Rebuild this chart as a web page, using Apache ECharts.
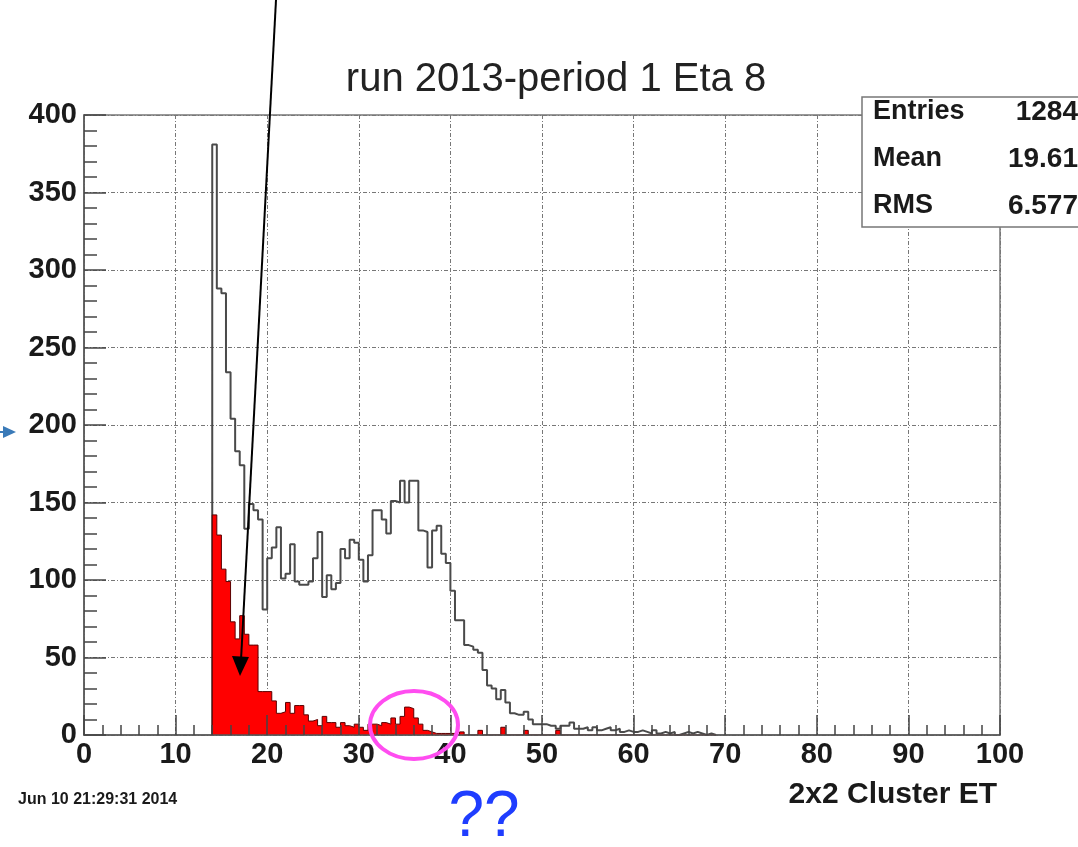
<!DOCTYPE html>
<html>
<head>
<meta charset="utf-8">
<script src="https://cdn.jsdelivr.net/npm/echarts@6/dist/echarts.min.js"></script>
<style>
html,body{margin:0;padding:0;background:#fff;}
#chart{width:1078px;height:847px;}
</style>
</head>
<body>
<div id="chart"></div>
<script>
// ---- data ----
const binStart = 14;      // first bin lower edge (ET)
const binWidth = 0.5;     // bin width (ET)
const grayCounts = [
  381,288,285,234,204,183,174,133,149,145,
  139,81,114,121,134,101,104,123,99,97,
  97,99,114,131,89,103,94,98,120,114,
  126,124,113,99,116,145,145,139,130,151,
  150,164,150,164,164,132,131,108,132,135,
  117,111,93,74,74,58,57,55,53,42,
  32,30,23,29,21,14,13,13,15,10,
  7,7,7,6,6,4,6,6,8,4,
  4,5,3,5,3,4,5,3,4,2,
  3,2,2,3,2,1,3,1,2,1,
  2,0,1,2,1,2,1,0,1,0
];
const redCounts = [
  142,129,107,99,73,62,77,65,58,58,
  28,28,28,22,14,15,21,14,19,19,
  13,9,10,6,12,8,8,5,8,6,
  5,7,5,3,7,7,6,8,7,11,
  7,12,18,17,11,7,3,2,1,1,
  1,1,1,0,2,0,0,0,3,0,
  0,0,0,5,0,0,0,0,3,0,
  0,0,0,0,0,3,0,0,0,0,
  0,0,0,0,0,0,0,0,0,0,
  0,0,0,0,0,0,0,0,0,0,
  0,0,0,0,0,0,0,0,0,0
];
const xTicks = {min: 0, max: 100, interval: 10};
const yTicks = {min: 0, max: 400, interval: 50};
const titleText = 'run 2013-period 1 Eta 8';
const xTitle = '2x2 Cluster ET';
const dateText = 'Jun 10 21:29:31 2014';
const statsLabels = ['Entries', 'Mean', 'RMS'];
const statsValues = ['1284', '19.61', '6.577'];
const noteText = '??';

function stepPoints(counts) {
  const pts = [[binStart, 0]];
  counts.forEach((v, i) => pts.push([binStart + binWidth * i, v]));
  pts.push([binStart + binWidth * counts.length, 0]);
  return pts;
}

const FONT = 'Liberation Sans, Arial, sans-serif';
const chart = echarts.init(document.getElementById('chart'), null, {renderer: 'canvas'});

const gridL = 84, gridR = 78, gridT = 115, gridB = 112;
const tickStyle = {color: '#444', width: 1.5};
const gridLine = {type: [4, 2, 1, 2], color: '#777', width: 1};
const labelStyle = {color: '#1a1a1a', fontWeight: 'bold', fontSize: 29, fontFamily: FONT};

chart.setOption({
  animation: false,
  backgroundColor: '#fff',
  grid: {left: gridL, right: gridR, top: gridT, bottom: gridB, show: true,
         borderColor: '#777', borderWidth: 1.5, backgroundColor: 'transparent'},
  xAxis: [
    {
      type: 'value', min: xTicks.min, max: xTicks.max, interval: xTicks.interval, z: 0,
      axisLine: {show: false}, axisTick: {show: false}, minorTick: {show: false},
      splitLine: {show: true, lineStyle: gridLine},
      axisLabel: Object.assign({margin: 5}, labelStyle)
    },
    {
      type: 'value', min: xTicks.min, max: xTicks.max, interval: xTicks.interval, z: 10,
      position: 'bottom',
      axisLine: {show: true, lineStyle: {color: '#555', width: 1.5}},
      axisTick: {show: true, inside: true, length: 20, lineStyle: tickStyle},
      minorTick: {show: true, splitNumber: 5, length: 10, lineStyle: tickStyle},
      splitLine: {show: false}, axisLabel: {show: false}
    }
  ],
  yAxis: [
    {
      type: 'value', min: yTicks.min, max: yTicks.max, interval: yTicks.interval, z: 0,
      axisLine: {show: false}, axisTick: {show: false}, minorTick: {show: false},
      splitLine: {show: true, lineStyle: gridLine},
      axisLabel: Object.assign({margin: 7}, labelStyle)
    },
    {
      type: 'value', min: yTicks.min, max: yTicks.max, interval: yTicks.interval, z: 10,
      position: 'left',
      axisLine: {show: true, lineStyle: {color: '#555', width: 1.5}},
      axisTick: {show: true, inside: true, length: 22, lineStyle: tickStyle},
      minorTick: {show: true, splitNumber: 5, length: 13, lineStyle: tickStyle},
      splitLine: {show: false}, axisLabel: {show: false}
    }
  ],
  series: [
    {
      type: 'line', name: 'all', step: 'end', showSymbol: false, symbol: 'none',
      xAxisIndex: 0, yAxisIndex: 0,
      data: stepPoints(grayCounts),
      lineStyle: {color: '#4a4a4a', width: 2},
      z: 2
    },
    {
      type: 'line', name: 'selected', step: 'end', showSymbol: false, symbol: 'none',
      xAxisIndex: 0, yAxisIndex: 0,
      data: stepPoints(redCounts),
      lineStyle: {color: '#5a0000', width: 1},
      areaStyle: {color: '#ff0000', opacity: 1},
      z: 3
    }
  ],
  graphic: [
    {type: 'text', x: 556, y: 80, z: 10,
     style: {text: titleText, font: '40px ' + FONT, fill: '#222', textAlign: 'center', textVerticalAlign: 'middle'}},
    // stats box
    {type: 'rect', shape: {x: 862, y: 97, width: 240, height: 130}, z: 20,
     style: {fill: '#fff', stroke: '#777', lineWidth: 1.5}},
    {type: 'text', x: 873, y: 112, z: 21, style: {text: statsLabels[0], font: 'bold 27px ' + FONT, fill: '#1a1a1a', textVerticalAlign: 'middle'}},
    {type: 'text', x: 873, y: 159, z: 21, style: {text: statsLabels[1], font: 'bold 27px ' + FONT, fill: '#1a1a1a', textVerticalAlign: 'middle'}},
    {type: 'text', x: 873, y: 206, z: 21, style: {text: statsLabels[2], font: 'bold 27px ' + FONT, fill: '#1a1a1a', textVerticalAlign: 'middle'}},
    {type: 'text', x: 1078, y: 112, z: 21, style: {text: statsValues[0], font: 'bold 28px ' + FONT, fill: '#1a1a1a', textAlign: 'right', textVerticalAlign: 'middle'}},
    {type: 'text', x: 1078, y: 159, z: 21, style: {text: statsValues[1], font: 'bold 28px ' + FONT, fill: '#1a1a1a', textAlign: 'right', textVerticalAlign: 'middle'}},
    {type: 'text', x: 1078, y: 206, z: 21, style: {text: statsValues[2], font: 'bold 28px ' + FONT, fill: '#1a1a1a', textAlign: 'right', textVerticalAlign: 'middle'}},
    // axis title & date
    {type: 'text', x: 997, y: 795, z: 10, style: {text: xTitle, font: 'bold 30px ' + FONT, fill: '#1a1a1a', textAlign: 'right', textVerticalAlign: 'middle'}},
    {type: 'text', x: 18, y: 800, z: 10, style: {text: dateText, font: 'bold 16px ' + FONT, fill: '#1a1a1a', textVerticalAlign: 'middle'}},
    // annotations
    {type: 'text', x: 484, y: 818, z: 10, style: {text: noteText, font: '64px ' + FONT, fill: '#1f3dff', textAlign: 'center', textVerticalAlign: 'middle'}},
    {type: 'line', z: 30, shape: {x1: 276, y1: 0, x2: 241, y2: 660}, style: {stroke: '#000', lineWidth: 2}},
    {type: 'polygon', z: 30, shape: {points: [[240, 676], [232, 656], [249, 657]]}, style: {fill: '#000'}},
    {type: 'line', z: 30, shape: {x1: 0, y1: 432, x2: 6, y2: 432}, style: {stroke: '#3a7ab8', lineWidth: 2}},
    {type: 'polygon', z: 30, shape: {points: [[16, 432], [3, 426], [3, 438]]}, style: {fill: '#3a7ab8'}},
    {type: 'ellipse', z: 30, shape: {cx: 414, cy: 725, rx: 44, ry: 34}, style: {fill: 'none', stroke: '#ff4df0', lineWidth: 4}}
  ]
});
</script>
</body>
</html>
